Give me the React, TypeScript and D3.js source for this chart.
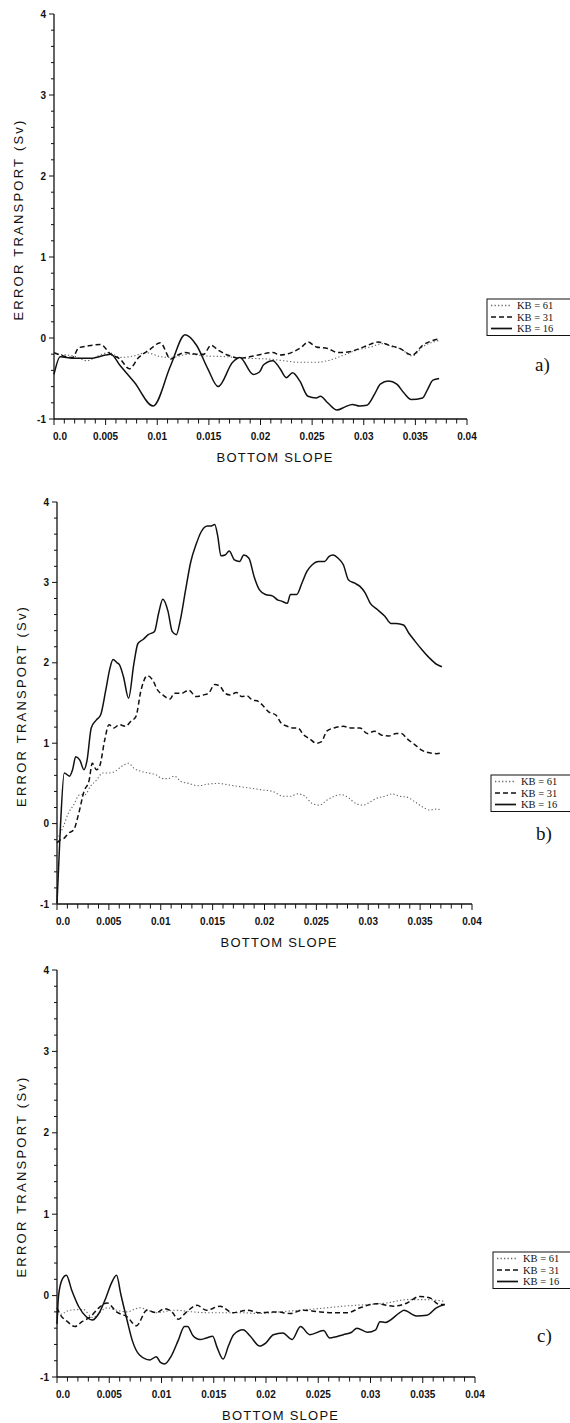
import React from "react";
import * as d3 from "d3";

type Pt = [number, number]; // [bottom slope in units of 0.001, error transport in Sv]

const SERIES_LABELS = ["KB = 61", "KB = 31", "KB = 16"];
const X_TICKS = [0, 0.005, 0.01, 0.015, 0.02, 0.025, 0.03, 0.035, 0.04];
const X_TICK_LABELS = ["0.0", "0.005", "0.01", "0.015", "0.02", "0.025", "0.03", "0.035", "0.04"];
const Y_TICKS = [-1, 0, 1, 2, 3, 4];
const Y_TICK_LABELS = ["-1", "0", "1", "2", "3", "4"];
const X_LABEL = "BOTTOM SLOPE";
const Y_LABEL = "ERROR TRANSPORT (Sv)";
const PANEL_LETTERS = ["a)", "b)", "c)"];

// ---------- panel a ----------
const A_KB16: Pt[] = [
  [0, -0.45], [0.6, -0.23], [1.8, -0.25], [3.6, -0.25], [5.0, -0.21], [5.5, -0.2], [6.4, -0.34], [7.8, -0.55],
  [9.6, -0.84], [11.3, -0.34], [12.7, 0.04], [13.8, -0.09], [14.9, -0.38], [15.9, -0.6], [17.3, -0.3], [18.0, -0.24],
  [19.3, -0.45], [19.9, -0.42], [20.3, -0.33], [21.2, -0.28], [21.9, -0.38], [22.5, -0.49], [23.1, -0.43], [23.8, -0.53],
  [24.6, -0.72], [25.4, -0.74], [25.8, -0.72], [26.5, -0.8], [27.4, -0.89], [28.2, -0.85], [28.9, -0.82], [29.6, -0.84],
  [30.3, -0.83], [31.1, -0.68], [31.6, -0.57], [32.4, -0.53], [33.2, -0.57], [33.9, -0.68], [34.6, -0.76], [35.7, -0.74],
  [36.2, -0.63], [36.7, -0.52], [37.3, -0.5],
];
const A_KB31: Pt[] = [
  [0, -0.18], [0.6, -0.21], [1.8, -0.24], [2.4, -0.12], [3.2, -0.1], [4.5, -0.08], [5.5, -0.2], [6.4, -0.26],
  [7.3, -0.38], [8.2, -0.24], [9.2, -0.15], [10.3, -0.06], [11.3, -0.26], [12.0, -0.21], [12.7, -0.18], [13.8, -0.2],
  [14.5, -0.2], [15.2, -0.09], [15.9, -0.15], [16.8, -0.21], [18.0, -0.25], [19.4, -0.22], [21.2, -0.18], [21.9, -0.21],
  [23.0, -0.18], [24.0, -0.11], [24.6, -0.05], [25.4, -0.11], [26.5, -0.13], [27.5, -0.18], [28.6, -0.17], [30.0, -0.11],
  [31.4, -0.05], [32.5, -0.09], [33.5, -0.13], [34.7, -0.21], [35.7, -0.09], [36.7, -0.03], [37.3, -0.01],
];
const A_KB61: Pt[] = [
  [0, -0.2], [1.8, -0.22], [3.2, -0.28], [4.3, -0.22], [5.3, -0.18], [6.4, -0.24], [7.8, -0.22], [8.9, -0.18],
  [10.3, -0.23], [11.3, -0.24], [13.1, -0.2], [14.5, -0.22], [16.6, -0.23], [18.7, -0.25], [20.8, -0.26], [22.2, -0.28],
  [23.7, -0.3], [25.4, -0.3], [26.5, -0.28], [27.9, -0.22], [29.3, -0.15], [30.7, -0.11], [31.8, -0.07], [32.8, -0.11],
  [33.5, -0.13], [34.7, -0.22], [35.7, -0.11], [36.7, -0.05], [37.3, -0.03],
];

// ---------- panel b ----------
const B_KB16: Pt[] = [
  [0, -0.99], [0.3, -0.12], [0.7, 0.63], [1.2, 0.59], [1.5, 0.67], [1.8, 0.83], [2.2, 0.79], [2.6, 0.67], [2.9, 0.79],
  [3.3, 1.19], [3.8, 1.29], [4.2, 1.35], [4.7, 1.66], [5.1, 1.93], [5.4, 2.04], [5.8, 2.0], [6.0, 1.98], [6.4, 1.83],
  [6.9, 1.56], [7.4, 1.98], [7.8, 2.24], [8.3, 2.29], [8.8, 2.35], [9.4, 2.39], [9.8, 2.62], [10.2, 2.79], [10.7, 2.64],
  [11.1, 2.39], [11.5, 2.35], [11.9, 2.54], [12.4, 2.91], [12.9, 3.26], [13.4, 3.47], [13.9, 3.63], [14.5, 3.7],
  [14.8, 3.7], [15.2, 3.72], [15.5, 3.57], [15.8, 3.33], [16.2, 3.34], [16.6, 3.39], [17.1, 3.28], [17.6, 3.26],
  [18.0, 3.34], [18.5, 3.3], [19.0, 3.07], [19.5, 2.91], [20.1, 2.85], [20.8, 2.83], [21.3, 2.78], [21.6, 2.77],
  [22.2, 2.74], [22.5, 2.85], [23.1, 2.85], [23.6, 2.99], [24.1, 3.14], [24.6, 3.22], [25.2, 3.26], [25.8, 3.26],
  [26.2, 3.32], [26.6, 3.34], [27.1, 3.3], [27.6, 3.22], [28.1, 3.03], [28.7, 2.99], [29.2, 2.95], [29.7, 2.87],
  [30.2, 2.74], [30.9, 2.66], [31.6, 2.58], [32.2, 2.49], [32.7, 2.49], [33.4, 2.47], [33.9, 2.37], [34.5, 2.27],
  [35.2, 2.16], [35.9, 2.06], [36.6, 1.98], [37.1, 1.95],
];
const B_KB31: Pt[] = [
  [0, -0.24], [0.35, -0.2], [0.7, -0.18], [1.1, -0.12], [1.6, -0.08], [2.1, 0.13], [2.6, 0.4], [3.1, 0.54], [3.4, 0.75],
  [3.8, 0.67], [4.1, 0.71], [4.6, 1.04], [5.0, 1.23], [5.5, 1.19], [6.0, 1.23], [6.6, 1.21], [7.1, 1.27], [7.6, 1.33],
  [8.1, 1.66], [8.7, 1.84], [9.2, 1.79], [9.7, 1.66], [10.2, 1.6], [10.9, 1.55], [11.3, 1.62], [12.0, 1.62], [12.7, 1.66],
  [13.4, 1.58], [14.1, 1.6], [14.6, 1.62], [15.2, 1.73], [15.7, 1.71], [16.2, 1.62], [16.7, 1.6], [17.3, 1.63],
  [17.8, 1.58], [18.3, 1.59], [18.8, 1.54], [19.4, 1.52], [19.9, 1.46], [20.4, 1.39], [21.1, 1.35], [21.6, 1.25],
  [22.2, 1.21], [22.7, 1.19], [23.2, 1.19], [23.8, 1.1], [24.3, 1.06], [25.0, 1.0], [25.5, 1.02], [26.0, 1.15],
  [26.7, 1.19], [27.6, 1.21], [28.3, 1.19], [29.2, 1.19], [29.9, 1.12], [30.6, 1.15], [31.3, 1.1], [32.0, 1.09],
  [32.7, 1.12], [33.2, 1.12], [33.7, 1.06], [34.5, 0.98], [35.2, 0.91], [35.9, 0.88], [36.6, 0.87], [37.1, 0.88],
];
const B_KB61: Pt[] = [
  [0, -0.2], [0.6, -0.04], [1.1, 0.13], [1.6, 0.23], [2.2, 0.36], [2.7, 0.36], [3.2, 0.46], [3.8, 0.54], [4.4, 0.63],
  [5.0, 0.63], [5.6, 0.65], [6.2, 0.71], [6.9, 0.75], [7.4, 0.69], [8.1, 0.65], [8.8, 0.63], [9.5, 0.61], [10.2, 0.56],
  [10.7, 0.56], [11.3, 0.59], [12.0, 0.52], [12.7, 0.5], [13.6, 0.47], [14.5, 0.49], [15.5, 0.5], [16.6, 0.48],
  [17.6, 0.46], [18.7, 0.44], [19.7, 0.42], [20.8, 0.4], [21.8, 0.34], [22.5, 0.34], [23.2, 0.37], [23.9, 0.34],
  [24.6, 0.25], [25.3, 0.23], [26.0, 0.29], [26.7, 0.34], [27.4, 0.36], [28.1, 0.32], [28.8, 0.25], [29.5, 0.23],
  [30.2, 0.27], [30.9, 0.32], [31.6, 0.34], [32.3, 0.37], [33.0, 0.34], [33.7, 0.33], [34.5, 0.27], [35.2, 0.21],
  [35.9, 0.17], [36.6, 0.18], [37.1, 0.17],
];

// ---------- panel c ----------
const C_KB16: Pt[] = [
  [0, -0.35], [0.15, 0.0], [0.5, 0.2], [0.9, 0.25], [1.4, 0.07], [2.1, -0.14], [2.8, -0.26], [3.4, -0.3], [4.0, -0.22],
  [4.7, -0.02], [5.2, 0.15], [5.7, 0.25], [6.1, 0.02], [6.7, -0.3], [7.2, -0.55], [7.9, -0.73], [8.9, -0.79], [9.5, -0.75],
  [9.9, -0.82], [10.3, -0.84], [10.9, -0.75], [11.6, -0.55], [12.2, -0.38], [12.5, -0.38], [13.0, -0.49], [13.7, -0.54],
  [14.3, -0.52], [14.9, -0.5], [15.3, -0.63], [15.9, -0.78], [16.4, -0.62], [16.9, -0.48], [17.8, -0.42], [18.5, -0.5],
  [19.4, -0.62], [20.0, -0.58], [20.7, -0.48], [21.6, -0.46], [22.5, -0.54], [23.3, -0.38], [24.2, -0.48], [25.5, -0.43],
  [26.1, -0.52], [27.4, -0.48], [28.2, -0.45], [28.7, -0.4], [29.7, -0.45], [30.5, -0.42], [30.9, -0.32], [31.4, -0.33],
  [32.8, -0.21], [33.2, -0.18], [34.4, -0.25], [35.4, -0.24], [36.3, -0.15], [37.1, -0.11],
];
const C_KB31: Pt[] = [
  [0, -0.15], [0.3, -0.23], [1.0, -0.32], [1.7, -0.38], [2.4, -0.32], [3.2, -0.26], [4.0, -0.15], [4.8, -0.09],
  [5.7, -0.2], [6.7, -0.26], [7.6, -0.37], [8.6, -0.18], [9.5, -0.21], [10.3, -0.16], [11.0, -0.2], [11.6, -0.29],
  [12.4, -0.2], [13.4, -0.12], [14.3, -0.18], [15.6, -0.13], [16.8, -0.21], [18.2, -0.18], [19.4, -0.21], [21.0, -0.2],
  [22.3, -0.22], [23.5, -0.18], [25.2, -0.2], [26.4, -0.21], [27.8, -0.21], [29.0, -0.15], [30.6, -0.1], [32.2, -0.13],
  [33.5, -0.09], [34.7, -0.01], [35.7, -0.03], [36.6, -0.11], [37.1, -0.11],
];
const C_KB61: Pt[] = [
  [0, -0.23], [0.3, -0.23], [1.2, -0.18], [2.5, -0.17], [3.4, -0.27], [4.8, -0.15], [5.7, -0.18], [6.7, -0.2],
  [7.9, -0.15], [9.5, -0.21], [11.3, -0.18], [13.0, -0.2], [14.3, -0.21], [15.9, -0.21], [17.5, -0.21], [19.4, -0.22],
  [21.3, -0.2], [23.2, -0.18], [25.8, -0.15], [27.4, -0.13], [29.7, -0.11], [31.6, -0.09], [33.5, -0.05], [35.4, -0.05],
  [37.1, -0.07],
];

const PANEL_DATA: Pt[][][] = [
  [A_KB61, A_KB31, A_KB16],
  [B_KB61, B_KB31, B_KB16],
  [C_KB61, C_KB31, C_KB16],
];

// ---------- layout / style ----------
const LAYOUT = [
  { x0: 54, x1: 467, yTop: 14, yBot: 419, legX: 487, legY: 299, letX: 535, letY: 371 },
  { x0: 57, x1: 472, yTop: 502, yBot: 904, legX: 491, legY: 775, letX: 536, letY: 840 },
  { x0: 57, x1: 475, yTop: 970, yBot: 1377, legX: 493, legY: 1252, letX: 537, letY: 1342 },
];

const STYLES = [
  { stroke: "#666", width: 1.1, dash: "1.3,2.2" },
  { stroke: "#111", width: 1.5, dash: "5,3" },
  { stroke: "#111", width: 1.5, dash: "" },
];

const SANS = "'Liberation Sans', Arial, Helvetica, sans-serif";
const SERIF = "'Liberation Serif', 'Times New Roman', serif";
const LEG_ROW = 11.5;

function Panel({ idx }: { idx: number }) {
  const L = LAYOUT[idx];
  const x = d3.scaleLinear().domain([0, 0.04]).range([L.x0, L.x1]);
  const y = d3.scaleLinear().domain([-1, 4]).range([L.yBot, L.yTop]);
  const line = d3
    .line<Pt>()
    .x((d) => x(d[0] / 1000))
    .y((d) => y(d[1]))
    .curve(d3.curveMonotoneX);

  const xMinor = d3.range(0, 41).map((i) => i / 1000);
  const yMinor = d3.range(0, 26).map((i) => -1 + i * 0.2);
  const yMid = y(1.45);

  return (
    <g>
      {/* axes */}
      <line x1={L.x0} x2={L.x0} y1={L.yTop} y2={L.yBot} stroke="#111" strokeWidth={1.3} />
      <line x1={L.x0} x2={L.x1} y1={L.yBot} y2={L.yBot} stroke="#111" strokeWidth={1.3} />
      {yMinor.map((v, i) => (
        <line key={"ym" + i} x1={L.x0} x2={L.x0 - (i % 5 === 0 ? 5 : 3)} y1={y(v)} y2={y(v)} stroke="#111" strokeWidth={1} />
      ))}
      {xMinor.map((v, i) => (
        <line key={"xm" + i} x1={x(v)} x2={x(v)} y1={L.yBot} y2={L.yBot + (i % 5 === 0 ? 6 : 4.5)} stroke="#111" strokeWidth={1} />
      ))}
      {Y_TICKS.map((v, i) => (
        <text key={"yl" + i} x={L.x0 - 8} y={y(v) + 3.5} textAnchor="end" fontFamily={SANS} fontWeight="bold" fontSize={10} fill="#111">
          {Y_TICK_LABELS[i]}
        </text>
      ))}
      {X_TICKS.map((v, i) => (
        <text key={"xl" + i} x={x(v) + (i === 0 ? 6 : 0)} y={L.yBot + 21} textAnchor="middle" fontFamily={SANS} fontWeight="bold" fontSize={10} fill="#111">
          {X_TICK_LABELS[i]}
        </text>
      ))}
      <text x={(x(0) + x(0.04)) / 2 + 14} y={L.yBot + 43} textAnchor="middle" fontFamily={SANS} fontSize={13} fill="#111" textLength={116} lengthAdjust="spacing">
        {X_LABEL}
      </text>
      <text
        transform={`translate(${L.x0 - 31},${yMid}) rotate(-90)`}
        textAnchor="middle"
        fontFamily={SANS}
        fontSize={13}
        fill="#111"
        textLength={200}
        lengthAdjust="spacing"
      >
        {Y_LABEL}
      </text>

      {/* series */}
      {PANEL_DATA[idx].map((pts, s) => (
        <path
          key={"s" + s}
          d={line(pts) || ""}
          fill="none"
          stroke={STYLES[s].stroke}
          strokeWidth={STYLES[s].width}
          strokeDasharray={STYLES[s].dash || undefined}
          strokeLinejoin="round"
        />
      ))}

      {/* legend */}
      <rect x={L.legX} y={L.legY} width={100} height={3 * LEG_ROW + 2} fill="white" stroke="#111" strokeWidth={1} />
      {SERIES_LABELS.map((lab, s) => {
        const ly = L.legY + 6.5 + s * LEG_ROW;
        return (
          <g key={"lg" + s}>
            <line
              x1={L.legX + 4}
              x2={L.legX + 25}
              y1={ly}
              y2={ly}
              stroke={STYLES[s].stroke}
              strokeWidth={STYLES[s].width + 0.2}
              strokeDasharray={STYLES[s].dash || undefined}
            />
            <text x={L.legX + 30} y={ly + 3.5} fontFamily={SERIF} fontSize={10.5} fill="#111">
              {lab}
            </text>
          </g>
        );
      })}
      <text x={L.letX} y={L.letY} fontFamily={SERIF} fontSize={19} fill="#111">
        {PANEL_LETTERS[idx]}
      </text>
    </g>
  );
}

export default function App() {
  return (
    <svg
      width={570}
      height={1423}
      viewBox="0 0 570 1423"
      style={{ position: "absolute", left: 0, top: 0, background: "white" }}
    >
      <rect x={0} y={0} width={570} height={1423} fill="white" />
      {[0, 1, 2].map((i) => (
        <Panel key={i} idx={i} />
      ))}
    </svg>
  );
}
